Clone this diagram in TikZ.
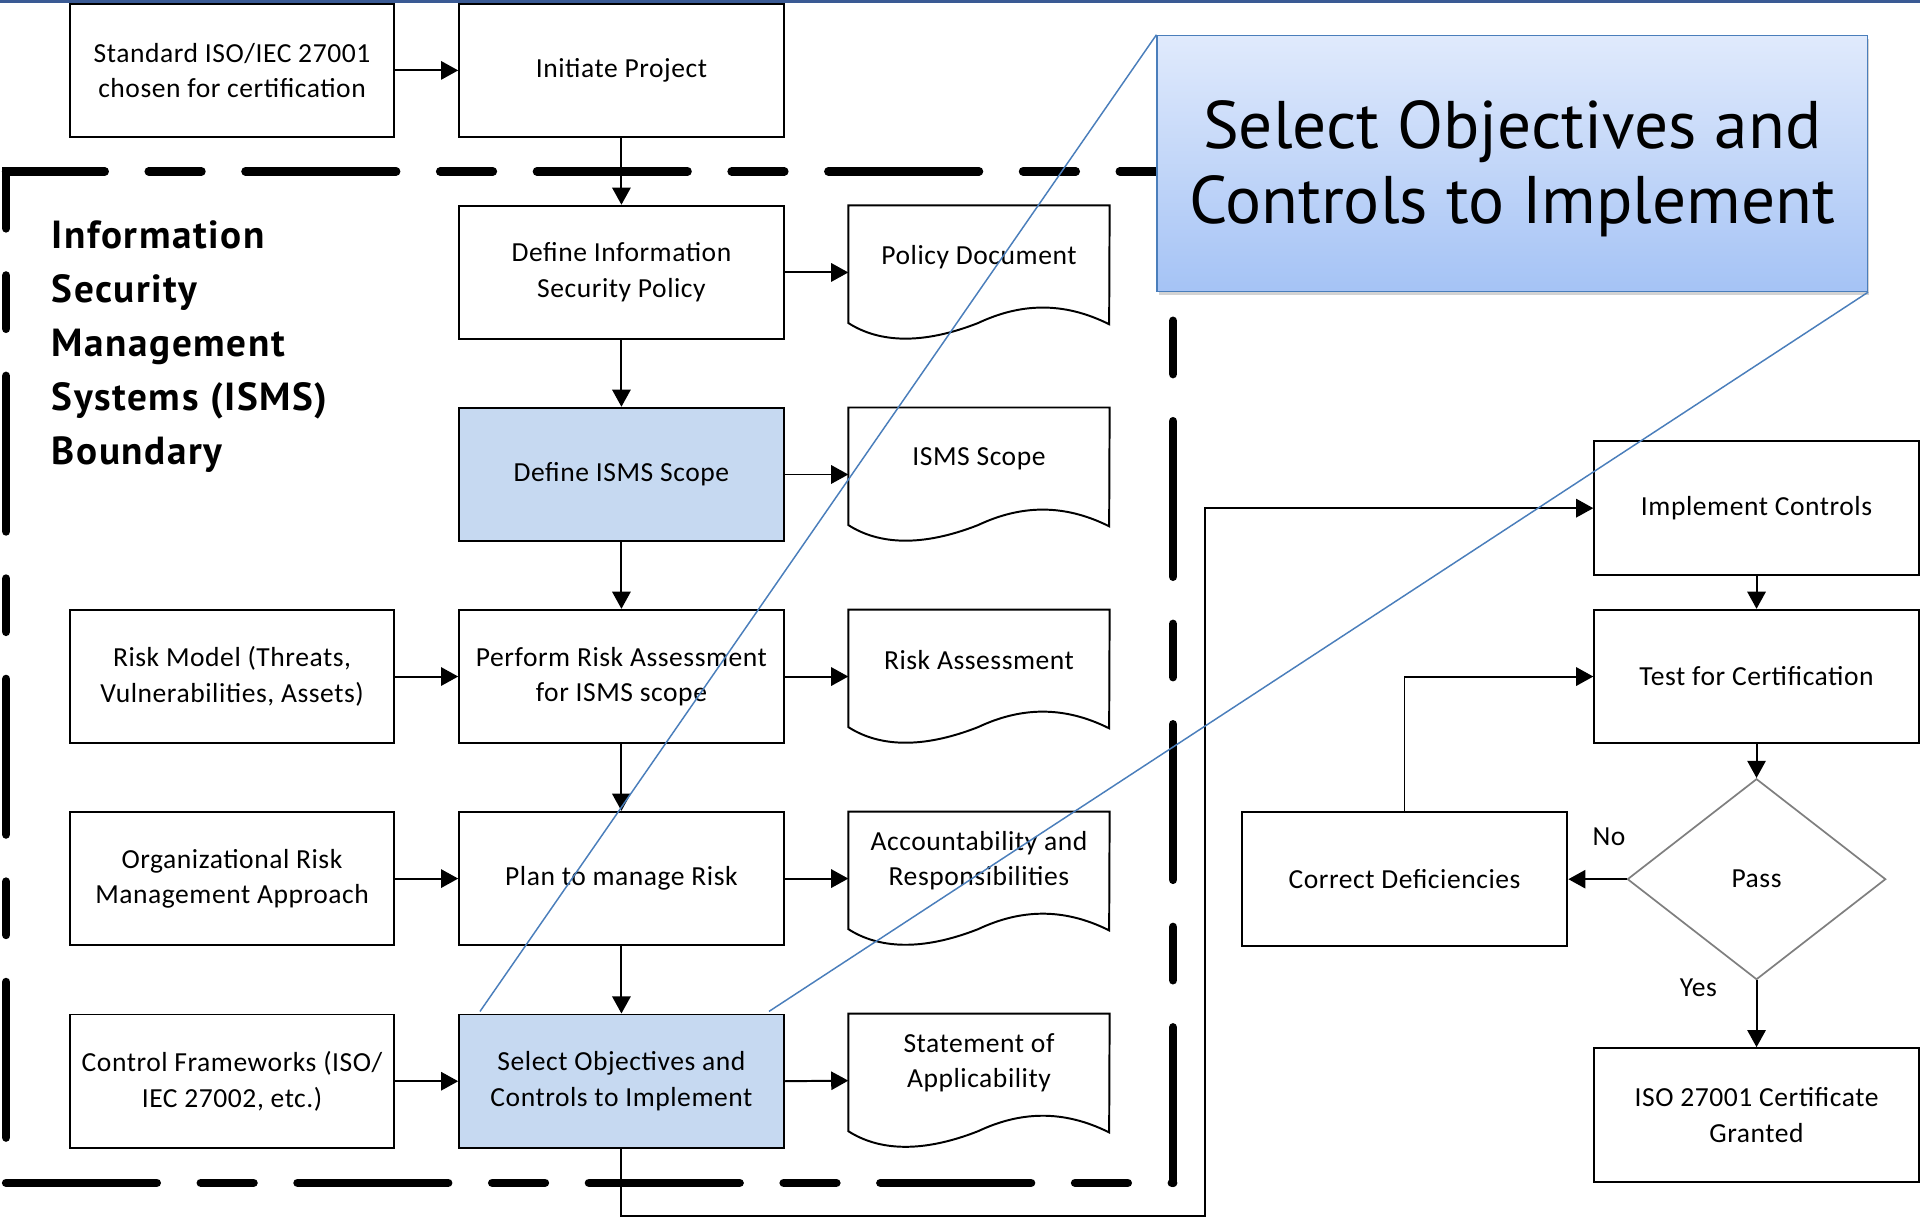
\documentclass[tikz,border=0pt]{standalone}
\usepackage{fontspec}
\setmainfont{Carlito}[LetterSpace=2]
\newfontfamily\headfont{PT Sans}
\newfontfamily\titlefont{PT Sans}[LetterSpace=4]
\usetikzlibrary{arrows.meta,shapes.geometric,shadows,calc}
\definecolor{boxblue}{HTML}{C6D9F1}
\definecolor{calloutline}{HTML}{4A7EBB}
\definecolor{calltop}{HTML}{E0EAFC}
\definecolor{callbot}{HTML}{A5C3F5}
\definecolor{topbar}{HTML}{3A5A94}
\definecolor{diamondgray}{HTML}{7F7F7F}

% document symbol: flat top, wavy bottom, drawn around an invisible frame node
\newcommand\docoutline[1]{%
  \draw[docline] (#1.north west) -- (#1.north east)
    -- ($(#1.north west)+(213,97)$)
    .. controls ($(#1.north west)+(175,78)$) and ($(#1.north west)+(140,80)$) .. ($(#1.north west)+(106,96)$)
    .. controls ($(#1.north west)+(60,114)$) and ($(#1.north west)+(25,112)$) .. ($(#1.north west)+(0,96)$)
    -- cycle;}

\begin{document}
\begin{tikzpicture}[x=1pt,y=-1pt,
  every node/.style={font=\fontsize{22.5}{29}\selectfont},
  procbox/.style={draw=black, line width=1.6pt, rectangle, minimum width=265pt,
    minimum height=109pt, inner sep=0pt, align=center},
  hilite/.style={procbox, fill=boxblue},
  docframe/.style={rectangle, minimum width=213pt, minimum height=109pt, inner sep=0pt},
  docline/.style={draw=black, line width=1.6pt, fill=white},
  doctext/.style={align=center, inner sep=0pt},
  flow/.style={line width=1.6pt, -{Triangle[length=14pt,width=15pt]}},
  decision/.style={diamond, draw=diamondgray, line width=1.4pt, minimum width=211pt,
    minimum height=164pt, inner sep=0pt},
  edgebase/.style={line width=7pt, line cap=round},
  hdash/.style={edgebase, dash pattern=on 123pt off 36pt on 43pt off 36pt},
  vdash/.style={edgebase, dash pattern=on 127pt off 38.5pt on 43.5pt off 38.5pt},
  callout/.style={rectangle, draw=calloutline, line width=1.2pt, top color=calltop,
    bottom color=callbot, minimum width=580pt, minimum height=209pt,
    drop shadow={opacity=0.35, shadow xshift=1.5pt, shadow yshift=-3pt}},
  callouttext/.style={align=center, inner sep=0pt, font=\headfont\fontsize{55}{61}\selectfont},
  zoomline/.style={draw=calloutline, line width=1.2pt},
  bigtitle/.style={align=left, inner sep=0pt, font=\titlefont\bfseries\fontsize{32}{44}\selectfont}
]
\useasboundingbox (0,0) rectangle (1568,995);
\fill[topbar] (0,0) rectangle (1568,2.5);

% ISMS boundary, one dashed run per side
\draw[hdash] (5,966) -- (958,966);
\draw[vdash] (958,966) -- (958,140);
\draw[hdash, dash phase=79.5pt] (958,140) -- (5,140);
\draw[vdash, dash phase=80.5pt] (5,140) -- (5,966);
\fill (1.5,136.5) rectangle (8.5,143.5);
\node[bigtitle, anchor=north west] (isms) at (42,180)
  {Information\\Security\\Management\\Systems (ISMS)\\Boundary};

% main column
\node[procbox] (std)   at (189.5,57.5)  {Standard ISO/IEC 27001\\chosen for certification};
\node[procbox] (init)  at (507.5,57.5)  {Initiate Project};
\node[procbox] (pol)   at (507.5,222.5) {Define Information\\Security Policy};
\node[hilite]  (scope) at (507.5,387.5) {Define ISMS Scope};
\node[procbox] (risk)  at (507.5,552.5) {Perform Risk Assessment\\for ISMS scope};
\node[procbox] (plan)  at (507.5,717.5) {Plan to manage Risk};
\node[hilite]  (sel)   at (507.5,883)   {Select Objectives and\\Controls to Implement};

% inputs
\node[procbox] (model) at (189.5,552.5) {Risk Model (Threats,\\Vulnerabilities, Assets)};
\node[procbox] (org)   at (189.5,717.5) {Organizational Risk\\Management Approach};
\node[procbox] (ctrl)  at (189.5,883)   {Control Frameworks (ISO/\\IEC 27002, etc.)};

% output documents
\node[docframe] (dpol)   at (799.5,222.5) {};
\node[docframe] (dscope) at (799.5,387.5) {};
\node[docframe] (drisk)  at (799.5,552.5) {};
\node[docframe] (dplan)  at (799.5,717.5) {};
\node[docframe] (dsel)   at (799.5,882.5) {};
\docoutline{dpol}
\docoutline{dscope}
\docoutline{drisk}
\docoutline{dplan}
\docoutline{dsel}
\node[doctext] (tpol)   at ([yshift=-42pt]dpol.north)   {Policy Document};
\node[doctext] (tscope) at ([yshift=-42pt]dscope.north) {ISMS Scope};
\node[doctext] (trisk)  at ([yshift=-41pt]drisk.north)  {Risk Assessment};
\node[doctext] (tplan)  at ([yshift=-40pt]dplan.north)  {Accountability and\\Responsibilities};
\node[doctext] (tsel)   at ([yshift=-40pt]dsel.north)   {Statement of\\Applicability};

% certification column
\node[procbox] (impl) at (1434.5,415)   {Implement Controls};
\node[procbox] (test) at (1434.5,552.5) {Test for Certification};
\node[decision] (pass) at (1434.5,718)  {Pass};
\node[procbox, minimum width=266pt] (corr) at (1147,718) {Correct Deficiencies};
\node[procbox] (cert) at (1434.5,910.5) {ISO 27001 Certificate\\Granted};
\node (nolab)  at (1314,683) {No};
\node (yeslab) at (1387,807) {Yes};

% connectors
\draw[flow] (std) -- (init);
\draw[flow] (init) -- (pol);
\draw[flow] (pol) -- (scope);
\draw[flow] (scope) -- (risk);
\draw[flow] (risk) -- (plan);
\draw[flow] (plan) -- (sel);
\draw[flow] (model) -- (risk);
\draw[flow] (org) -- (plan);
\draw[flow] (ctrl) -- (sel);
\draw[flow] (pol.east) -- (dpol.west);
\draw[flow] (scope.east) -- (dscope.west);
\draw[flow] (risk.east) -- (drisk.west);
\draw[flow] (plan.east) -- (dplan.west);
\draw[flow] (sel.east) -- (dsel.west);
\coordinate (loop) at (984,993);
\draw[flow] (sel.south) |- (loop) |- (impl.west);
\draw[flow] (impl) -- (test);
\draw[flow] (test) -- (pass);
\draw[flow] (pass.west) -- (corr.east);
\draw[flow] (corr.north) |- (test.west);
\draw[flow] (pass.south) -- (cert.north);

% enlarged callout of the selected step
\node[callout] (sobj) at (1235,133.5) {};
\node[callouttext] (sobjtext) at (1235,138) {Select Objectives and\\Controls to Implement};
\coordinate (za) at (392,826);
\coordinate (zb) at (628,826);
\draw[zoomline] (sobj.north west) -- (za);
\draw[zoomline] (sobj.south east) -- (zb);
\end{tikzpicture}
\end{document}
